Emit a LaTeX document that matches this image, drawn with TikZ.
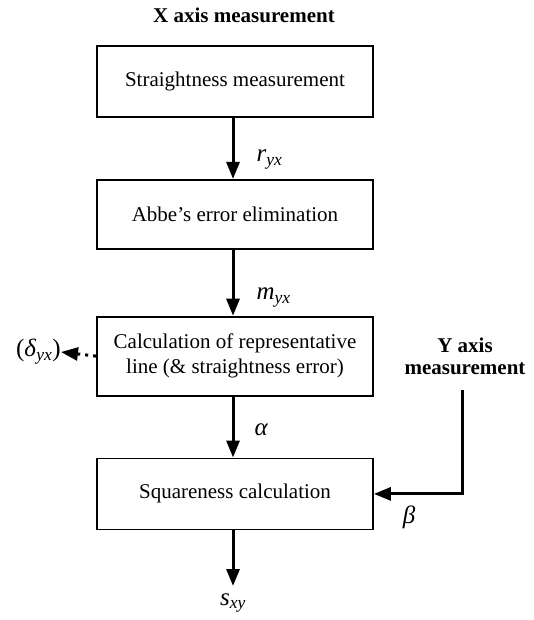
\documentclass[tikz,border=0pt]{standalone}
\usepackage{fontspec}
\setmainfont{Liberation Serif}
\usepackage{tikz}
\usetikzlibrary{positioning, arrows.meta}
\tikzset{
block/.style={draw, line width=1.8pt, minimum width=276pt, align=center}, % the process boxes
flow/.style={-{Triangle[length=17pt, width=13pt]}, line width=3pt}, % the thick arrows
side/.style={flow, dash pattern=on 3pt off 5pt}, % dotted output arrow
title/.style={font=\fontsize{21}{22}\selectfont\bfseries, align=center}, % the bold headings
lbl/.style={inner sep=0pt, font=\fontsize{25}{28}\selectfont}, % arrow labels
}
\newcommand{\var}[2]{\textit{#1}\textsubscript{\textit{#2}}}

\begin{document}
\begin{tikzpicture}[x=1pt, y=-1pt, font=\fontsize{21}{25}\selectfont, node distance=61pt]
                \useasboundingbox (0,0) rectangle (533,620);
                \node[block, minimum height=71pt] (straight) at (235,81.5) {Straightness measurement};
                \node[block, minimum height=69pt, below=of straight] (abbe) {Abbe's error elimination};
                \node[block, minimum height=79pt, below=66pt of abbe] (repline) {Calculation of representative\\line (\& straightness error)};
                \node[block, minimum height=71pt, below=of repline] (square) {Squareness calculation};
                \node[title] (xaxis) at (244,15) {X axis measurement};
                \node[title] (yaxis) at (465,356) {Y axis\\measurement};
                \node[lbl, anchor=east] (delta) at (61,352) {(\textit{δ}\textsubscript{\textit{yx}})};
                \node[lbl] (sxy) at (233,603) {\var{s}{xy}};
                \coordinate (ytop) at (462,390);
                \coordinate (send) at (233,586);
                \draw[flow] (straight.south -| send) -- node[lbl, pos=0.68, right=22pt] (ryx) {\var{r}{yx}} (abbe.north -| send);
                \draw[flow] (abbe.south -| send) -- node[lbl, pos=0.72, right=22pt] (myx) {\var{m}{yx}} (repline.north -| send);
                \draw[flow] (repline.south -| send) -- node[lbl, pos=0.55, right=20pt] (alpha) {\textit{α}} (square.north -| send);
                \draw[flow] (square.south -| send) -- (send);
                \draw[side] (repline.west) -- (delta.east);
                \draw[flow] (ytop) |- node[lbl, pos=0.8, below=10pt] (beta) {\textit{β}} (square.east);
\end{tikzpicture}
\end{document}
